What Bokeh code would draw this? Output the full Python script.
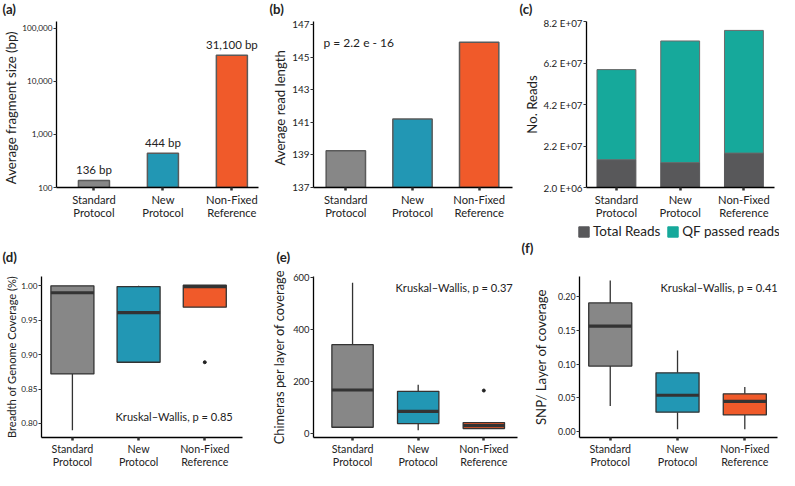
import math
from bokeh.plotting import figure
from bokeh.layouts import row, column
from bokeh.models import (FixedTicker, Label, Legend, LegendItem, NumeralTickFormatter,
                          PrintfTickFormatter, Range1d)
from bokeh.core.properties import value
from bokeh.embed import file_html
from bokeh.resources import INLINE

# ---------------- data ----------------
categories = ["Standard\nProtocol", "New\nProtocol", "Non-Fixed\nReference"]

# (a) average fragment size (bp)
fragment_size = [136, 444, 31100]
fragment_ticks = [100, 1000, 10000, 100000]

# (b) average read length
read_length = [139.25, 141.2, 145.9]
read_ticks = [137, 139, 141, 143, 145, 147]
p_text_b = "p = 2.2 e - 16"

# (c) number of reads (stacked)
total_reads = [1.54e7, 1.40e7, 1.86e7]
qf_passed_reads = [4.35e7, 5.87e7, 5.92e7]
reads_ticks = [2.0e6, 2.2e7, 4.2e7, 6.2e7, 8.2e7]
reads_tick_labels = ["2.0 E+06", "2.2 E+07", "4.2 E+07", "6.2 E+07", "8.2 E+07"]
reads_series = ["Total Reads", "QF passed reads"]

# (d) breadth of genome coverage: whisker low, q1, median, q3, whisker high
breadth_low = [0.790, 0.888, 0.969]
breadth_q1 = [0.872, 0.889, 0.969]
breadth_med = [0.990, 0.961, 0.999]
breadth_q3 = [1.000, 0.999, 1.001]
breadth_high = [1.000, 1.000, 1.001]
breadth_out_idx = [2]
breadth_out = [0.889]
breadth_ticks = [0.80, 0.85, 0.90, 0.95, 1.00]
breadth_p = "Kruskal\u2013Wallis, p = 0.85"

# (e) chimeras per layer of coverage
chim_low = [25, 13, 20]
chim_q1 = [25, 39, 20]
chim_med = [168, 86, 31]
chim_q3 = [342, 163, 43]
chim_high = [580, 188, 43]
chim_out_idx = [2]
chim_out = [166]
chim_ticks = [0, 200, 400, 600]
chim_p = "Kruskal\u2013Wallis, p = 0.37"

# (f) SNP / layer of coverage
snp_low = [0.038, 0.004, 0.004]
snp_q1 = [0.097, 0.029, 0.025]
snp_med = [0.156, 0.054, 0.045]
snp_q3 = [0.190, 0.087, 0.056]
snp_high = [0.223, 0.120, 0.066]
snp_ticks = [0.00, 0.05, 0.10, 0.15, 0.20]
snp_p = "Kruskal\u2013Wallis, p = 0.41"

panel_letters = ["(a)", "(b)", "(c)", "(d)", "(e)", "(f)"]

# ---------------- style / layout ----------------
FONT = "Lato"
GREY, TEAL, ORANGE = "#878787", "#2297b4", "#f05a2a"
fill_colors = [GREY, TEAL, ORANGE]
C_DARK, C_TEAL = "#58585a", "#16a99b"
EDGE = "#333333"
TXT = "#222222"

SX = 779 / 795
SY = 470 / 486


def fx(v):
    return int(round(v * SX))


def fy(v):
    return int(round(v * SY))


def fs(v):
    return f"{v * 0.975:.1f}px"


TOTAL_W = 779
COL_W = [260, 260, 259]
S1_H = 16                      # strip with (a)(b)(c)
R1_H, R1_T, R1_B = 208, 5, 37  # top row of charts
S2_TOP = S1_H + R1_H
S2_H = 44                      # strip with legend and (d)(e)(f)
R2_H, R2_T, R2_B = 202, 8, 32  # bottom row of charts
S2_BOTTOM = S2_TOP + S2_H

xpos = list(range(len(categories)))


def make_fig(W, H, L, R, T, B, xr, yr, ylabel, y_type="linear", ylabel_size=13.5,
             ytick_size=10.0, xtick_size=11.5, label_standoff=1, xtick_standoff=2):
    p = figure(width=W, height=H, x_range=Range1d(*xr), y_range=Range1d(*yr),
               y_axis_type=y_type, output_backend="svg", toolbar_location=None,
               min_border_left=L, min_border_right=R, min_border_top=T,
               min_border_bottom=B)
    p.xgrid.visible = False
    p.ygrid.visible = False
    p.outline_line_color = None
    p.background_fill_color = "white"
    p.border_fill_color = "white"
    p.xaxis.ticker = FixedTicker(ticks=xpos)
    p.xaxis.major_label_overrides = {i: c for i, c in zip(xpos, categories)}
    for ax in (p.xaxis, p.yaxis):
        ax.axis_line_color = "black"
        ax.axis_line_width = 1.3
        ax.major_tick_in = 0
        ax.major_tick_out = 3
        ax.minor_tick_line_color = None
        ax.major_label_text_font = FONT
        ax.major_label_text_color = TXT
    p.xaxis.major_label_text_font_size = fs(xtick_size)
    p.yaxis.major_label_text_font_size = fs(ytick_size)
    p.xaxis.major_tick_line_width = 2.5
    p.xaxis.major_tick_line_color = "#333333"
    p.xaxis.major_label_standoff = xtick_standoff
    p.xaxis.major_label_text_line_height = 1.0
    p.yaxis.major_tick_line_color = "#333333"
    p.yaxis.major_tick_line_width = 1
    p.yaxis.major_label_standoff = 1
    p.yaxis.axis_label = ylabel
    p.yaxis.axis_label_standoff = label_standoff
    p.yaxis.axis_label_text_font = FONT
    p.yaxis.axis_label_text_font_style = "normal"
    p.yaxis.axis_label_text_font_size = fs(ylabel_size)
    p.yaxis.axis_label_text_color = TXT
    return p


def add_label(p, x, y, text, size, bold=False):
    p.add_layout(Label(x=x, y=y, x_units="screen", y_units="screen", text=text,
                       text_font=FONT, text_font_size=fs(size),
                       text_font_style="bold" if bold else "normal",
                       text_align="left", text_baseline="middle", text_color=TXT))


def make_strip(H):
    s = figure(width=TOTAL_W, height=H, x_range=Range1d(0, 1), y_range=Range1d(0, 1),
               output_backend="svg", toolbar_location=None,
               x_axis_location=None, y_axis_location=None, min_border=0)
    s.xgrid.visible = False
    s.ygrid.visible = False
    s.outline_line_color = None
    s.background_fill_color = "white"
    s.border_fill_color = "white"
    return s


def boxplot(p, low, q1, med, q3, high, width, out_idx=None, out=None):
    p.segment(x0=xpos, y0=q3, x1=xpos, y1=high, line_color=EDGE, line_width=1.3)
    p.segment(x0=xpos, y0=low, x1=xpos, y1=q1, line_color=EDGE, line_width=1.3)
    p.vbar(x=xpos, width=width, bottom=q1, top=q3, fill_color=fill_colors,
           line_color=EDGE, line_width=1.3)
    p.vbar(x=xpos, width=width, bottom=med, top=med, fill_alpha=0,
           line_color=EDGE, line_width=3.2)
    if out_idx:
        p.scatter(x=out_idx, y=out, size=3, color=TXT)


# ---------------- strip 1: panel letters (a)(b)(c) ----------------
strip1 = make_strip(S1_H)
for letter, xr in zip(panel_letters[:3], [2, 275, 530]):
    add_label(strip1, fx(xr), S1_H - 8, letter, 13.5, bold=True)

# ---------------- (a) ----------------
pa = make_fig(COL_W[0], R1_H, fx(50), 2, R1_T, R1_B, (-0.543, 2.386), (100, 133900),
              "Average  fragment  size (bp)", y_type="log", ylabel_size=13.5,
              ytick_size=8.4, label_standoff=0)
pa.vbar(x=xpos, width=0.45, bottom=100, top=fragment_size, fill_color=fill_colors,
        line_color="#5a5a5a", line_width=1.5)
pa.text(x=xpos, y=fragment_size, text=[f"{v:,} bp" for v in fragment_size],
        text_font=value(FONT), text_font_size=fs(11.8), text_align="center",
        text_baseline="bottom", y_offset=-4, text_color=TXT)
pa.yaxis.ticker = FixedTicker(ticks=fragment_ticks)
pa.yaxis.formatter = NumeralTickFormatter(format="0,0")

# ---------------- (b) ----------------
pb = make_fig(COL_W[1], R1_H, fx(54), 8, R1_T, R1_B, (-0.485, 2.5), (137, 147.18),
              "Average  read  length", ytick_size=10.2)
pb.vbar(x=xpos, width=0.59, bottom=137, top=read_length, fill_color=fill_colors,
        line_color="#5a5a5a", line_width=1.5)
pb.yaxis.ticker = FixedTicker(ticks=read_ticks)
add_label(pb, fx(10), fy(150), p_text_b, 12.3)

# ---------------- (c) ----------------
pc = make_fig(COL_W[2], R1_H, fx(63), 5, R1_T, R1_B, (-0.47, 2.48), (2.0e6, 8.21e7),
              "No. Reads", ytick_size=10)
pc.vbar_stack(["total", "qf"], x="x", width=0.61,
              color=[C_DARK, C_TEAL], line_color=["#58585a", "#6a6a6a"], line_width=1,
              source=dict(x=xpos, total=total_reads, qf=qf_passed_reads))
pc.yaxis.ticker = FixedTicker(ticks=reads_ticks)
pc.yaxis.major_label_overrides = {t: l for t, l in zip(reads_ticks, reads_tick_labels)}

# ---------------- strip 2: legend of (c) and letters (d)(e)(f) ----------------
strip2 = make_strip(S2_H)
# hidden stand-ins that only lend their colours to the legend swatches
r_dark = strip2.vbar(x=xpos, top=total_reads, width=0.6, fill_color=C_DARK,
                     line_color=C_DARK, visible=False)
r_teal = strip2.vbar(x=xpos, top=qf_passed_reads, width=0.6, fill_color=C_TEAL,
                     line_color=C_TEAL, visible=False)
legend = Legend(items=[LegendItem(label=reads_series[0], renderers=[r_dark]),
                       LegendItem(label=reads_series[1], renderers=[r_teal])],
                location=(fx(589), S2_BOTTOM - fy(247)), orientation="horizontal",
                padding=0, margin=0, spacing=6, glyph_width=13, glyph_height=13,
                label_standoff=3, label_height=13,
                label_text_font=FONT, label_text_font_size=fs(13.8), label_text_color=TXT,
                border_line_alpha=0, background_fill_alpha=0,
                inactive_fill_alpha=0, click_policy="none")
strip2.add_layout(legend, "center")
for letter, xr, yr in zip(panel_letters[3:], [2, 282, 532], [265, 265, 255]):
    add_label(strip2, fx(xr), S2_BOTTOM - fy(yr), letter, 13.5, bold=True)

# ---------------- (d) ----------------
pd_ = make_fig(COL_W[0], R2_H, fx(42), 18, R2_T, R2_B, (-0.467, 2.57), (0.7796, 1.0136),
               "Breadth of Genome Coverage (%)", ylabel_size=11.4, ytick_size=8.4,
               xtick_size=11.0, xtick_standoff=1, label_standoff=0)
boxplot(pd_, breadth_low, breadth_q1, breadth_med, breadth_q3, breadth_high, 0.65,
        breadth_out_idx, breadth_out)
pd_.yaxis.ticker = FixedTicker(ticks=breadth_ticks)
pd_.yaxis.formatter = PrintfTickFormatter(format="%.2f")
add_label(pd_, fx(76), fy(22), breadth_p, 11.4)

# ---------------- (e) ----------------
pe = make_fig(COL_W[1], R2_H, fx(54), 3, R2_T, R2_B, (-0.595, 2.513), (-14.4, 604),
              "Chimeras per layer of coverage", ylabel_size=13.2, ytick_size=9.6,
              xtick_size=11.0, xtick_standoff=1, label_standoff=3)
boxplot(pe, chim_low, chim_q1, chim_med, chim_q3, chim_high, 0.63, chim_out_idx, chim_out)
pe.yaxis.ticker = FixedTicker(ticks=chim_ticks)
add_label(pe, fx(84), fy(155), chim_p, 11.4)

# ---------------- (f) ----------------
pf = make_fig(COL_W[2], R2_H, fx(60), 2, R2_T, R2_B, (-0.457, 2.486), (-0.0083, 0.229),
              "SNP/ Layer of coverage", ytick_size=9.0, xtick_size=11.0, xtick_standoff=1,
              label_standoff=6)
boxplot(pf, snp_low, snp_q1, snp_med, snp_q3, snp_high, 0.64)
pf.yaxis.ticker = FixedTicker(ticks=snp_ticks)
pf.yaxis.formatter = PrintfTickFormatter(format="%.2f")
add_label(pf, fx(83), fy(155), snp_p, 11.4)

layout = column(strip1, row(pa, pb, pc), strip2, row(pd_, pe, pf))
open("out.html", "w").write(file_html(layout, INLINE))
